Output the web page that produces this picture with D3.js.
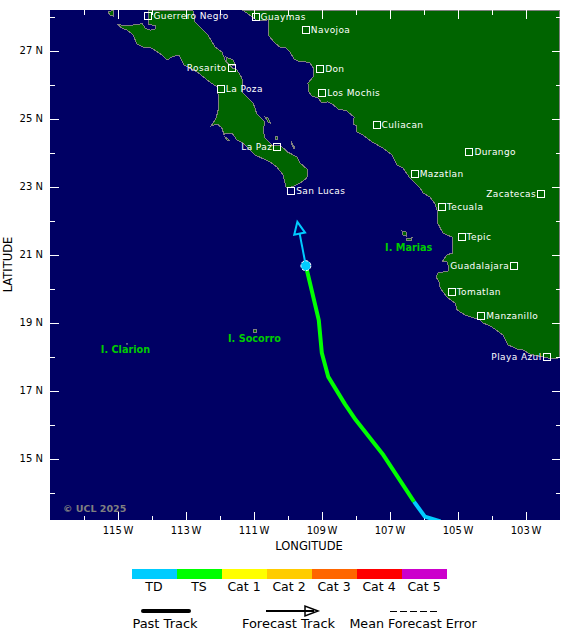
<!DOCTYPE html>
<html><head><meta charset="utf-8">
<script src="https://cdn.jsdelivr.net/npm/d3@7"></script>
<style>html,body{margin:0;padding:0;background:#fff}svg{display:block}text{font-family:"DejaVu Sans",sans-serif}</style>
</head><body><svg id="c" width="580" height="639"></svg>
<script>
// Coastlines, [lon, lat]
const mainland=[[-111.31,28.18],[-111.04,27.99],[-110.93,27.9],[-110.81,27.87],[-110.57,27.9],[-110.57,27.46],[-110.37,27.22],[-110.22,27.1],[-110.07,27.1],[-109.93,26.96],[-109.81,26.75],[-109.63,26.66],[-109.54,26.69],[-109.34,26.63],[-109.22,26.46],[-109.25,26.22],[-109.4,26.04],[-109.37,25.78],[-109.28,25.66],[-109.1,25.6],[-108.99,25.46],[-108.81,25.49],[-108.69,25.43],[-108.51,25.28],[-108.25,25.22],[-108.04,25.04],[-108.07,24.84],[-107.96,24.78],[-107.96,24.6],[-107.78,24.51],[-107.51,24.31],[-107.19,24.13],[-106.93,23.93],[-106.78,23.63],[-106.6,23.54],[-106.4,23.25],[-106.1,22.96],[-106.01,22.81],[-105.81,22.69],[-105.66,22.49],[-105.6,22.31],[-105.6,21.96],[-105.43,21.63],[-105.16,21.51],[-105.16,21.04],[-105.31,20.99],[-105.46,20.78],[-105.31,20.78],[-105.25,20.63],[-105.28,20.51],[-105.57,20.46],[-105.63,20.34],[-105.54,20.19],[-105.51,20.01],[-105.31,19.75],[-105.07,19.57],[-105.01,19.37],[-104.78,19.22],[-104.34,19.07],[-104.25,18.99],[-103.99,18.87],[-103.66,18.63],[-103.51,18.34],[-103.25,18.22],[-103.07,18.19],[-102.87,18.07],[-102.37,17.96],[-102.07,17.93],[-102.01,17.99],[-102.01,28.18]];
const baja=[[-114.1,28.18],[-114.1,27.78],[-113.87,27.72],[-113.9,27.63],[-114.04,27.6],[-114.19,27.66],[-114.28,27.81],[-114.34,27.78],[-114.54,27.75],[-114.78,27.72],[-115.01,27.78],[-114.87,27.66],[-114.72,27.6],[-114.54,27.46],[-114.43,27.19],[-114.25,27.1],[-113.99,27.07],[-113.69,26.87],[-113.54,26.72],[-113.4,26.81],[-113.19,26.87],[-113.04,26.57],[-112.66,26.37],[-112.28,26.07],[-112.07,25.93],[-112.04,25.69],[-112.04,25.25],[-112.1,25.01],[-112.25,24.78],[-112.07,24.84],[-111.93,24.72],[-111.87,24.54],[-111.75,24.57],[-111.63,24.57],[-111.49,24.37],[-111.31,24.28],[-110.96,23.93],[-110.51,23.72],[-110.31,23.57],[-110.13,23.34],[-110.04,22.96],[-109.87,22.99],[-109.63,23.1],[-109.43,23.25],[-109.4,23.49],[-109.63,23.69],[-109.72,23.87],[-109.99,24.01],[-110.22,24.22],[-110.46,24.22],[-110.66,24.43],[-110.72,24.66],[-110.66,24.9],[-110.9,25.13],[-111.01,25.46],[-111.31,25.75],[-111.34,26.19],[-111.49,26.43],[-111.63,26.49],[-111.81,26.66],[-111.93,26.96],[-112.13,27.1],[-112.34,27.46],[-112.72,27.84],[-112.78,28.18]];
const islandCedros=[[-115.28,28.13],[-115.13,28.18],[-115.13,28.01],[-115.22,28.04]];
const islandCarmen=[[-111.81,26.81],[-111.6,26.72],[-111.54,26.57],[-111.65,26.54],[-111.78,26.66]];
const islandMonserrat=[[-110.66,25.04],[-110.57,25.01],[-110.51,24.87],[-110.57,24.9]];
const islandSantaCruz=[[-110.34,24.46],[-110.28,24.46],[-110.28,24.37],[-110.34,24.37]];
const islandCerralvo=[[-109.87,24.28],[-109.78,24.13],[-109.81,24.1],[-109.87,24.22]];
const islandMargarita=[[-111.87,24.49],[-111.69,24.34],[-111.78,24.37]];
const islandMariaMadre=[[-106.63,21.69],[-106.51,21.66],[-106.49,21.54],[-106.6,21.57]];
const islandMariaMagdalena=[[-106.51,21.46],[-106.34,21.49],[-106.37,21.4],[-106.49,21.4]];
const islandSocorro=[[-111.0,18.79],[-110.92,18.79],[-110.92,18.71],[-111.0,18.71]];
const islandClarion=[[-114.75,18.37],[-114.69,18.37]];
const landShapes=[mainland,baja,islandCedros,islandCarmen,islandMonserrat,islandSantaCruz,islandCerralvo,islandMargarita,islandMariaMadre,islandMariaMagdalena,islandSocorro];

// Cities
const cityNames=["Guerrero Negro","Guaymas","Navojoa","Don","Los Mochis","Rosarito","La Poza","La Paz","San Lucas","Culiacan","Durango","Mazatlan","Zacatecas","Tecuala","Tepic","Guadalajara","Tomatlan","Manzanillo","Playa Azul"];
const cityLon=[-114.09,-110.94,-109.46,-109.04,-108.98,-111.64,-111.96,-110.3,-109.89,-107.38,-104.65,-106.26,-102.54,-105.46,-104.88,-103.33,-105.17,-104.3,-102.38];
const cityLat=[28.01,27.98,27.59,26.46,25.74,26.48,25.86,24.15,22.86,24.81,24.02,23.36,22.77,22.39,21.51,20.67,19.89,19.18,17.99];
const cityLabelLeft=["Rosarito","La Paz","Zacatecas","Guadalajara","Playa Azul"];

// Island labels
const islandNames=["I. Marias","I. Socorro","I. Clarion"];
const islandLabelLon=[-107.13,-111.75,-115.49];
const islandLabelLat=[21.1,18.43,18.1];

// Storm track
const trackLon=[-105.5,-105.96,-106.28,-107.18,-107.99,-108.31,-108.8,-108.99,-109.08,-109.46];
const trackLat=[13.15,13.29,13.73,15.1,16.13,16.6,17.4,18.1,19.07,20.67];
const trackCat=["TD","TD","TD","TS","TS","TS","TS","TS","TS","TS"];
const forecastLon=[-109.46,-109.71];
const forecastLat=[20.67,21.96];
const forecastCat="TD";

// Legend and axes
const catNames=["TD","TS","Cat 1","Cat 2","Cat 3","Cat 4","Cat 5"];
const catColors=["#00ccff","#00ff00","#ffff00","#ffcc00","#ff6600","#ff0000","#cc00cc"];
const lonMajor=[-115,-113,-111,-109,-107,-105,-103];
const lonMinor=[-116,-114,-112,-110,-108,-106,-104];
const latMajor=[27,25,23,21,19,17,15];
const latMinor=[28,26,24,22,20,18,16,14];

const svg=d3.select("#c");
const x=d3.scaleLinear().domain([-117,-102]).range([49.5,559.5]);
const y=d3.scaleLinear().domain([13.2,28.2]).range([519.7,9.7]);
const color=d3.scaleOrdinal(catNames,catColors);
const pathLine=d3.line().x(d=>x(d[0])).y(d=>y(d[1]));

svg.append("defs").append("clipPath").attr("id","plot").append("rect").attr("x",50).attr("y",10).attr("width",510).attr("height",510);
const plot=svg.append("g").attr("clip-path","url(#plot)");
plot.append("rect").attr("x",50).attr("y",10).attr("width",510).attr("height",510).attr("fill","#000064");
plot.selectAll("path.land").data(landShapes).join("path").attr("class","land")
  .attr("d",d=>pathLine(d)+"Z").attr("fill","#006400").attr("stroke","#808080").attr("stroke-width",1).attr("shape-rendering","crispEdges");
plot.append("path").attr("d",pathLine(islandClarion)).attr("stroke","#a0a0a0").attr("fill","none");

// ticks via d3 axes
function ticks(axisFn,vals,len,tx,ty,isV){
  const g=svg.append("g").attr("transform",`translate(${tx},${ty})`)
    .call(axisFn(isV?y:x).tickValues(vals).tickSize(len).tickFormat(""));
  g.select(".domain").remove();
  g.selectAll("line").attr("stroke","#fff").attr("shape-rendering","crispEdges");
}
[[lonMajor,9,8],[lonMinor,5,4]].forEach(([v,t,b])=>{
  ticks(d3.axisBottom,v,t,0,10,false);
  ticks(d3.axisTop,v,b,0,520,false);
});
[[latMajor,9,8],[latMinor,5,4]].forEach(([v,l,r])=>{
  ticks(d3.axisRight,v,l,50,0,true);
  ticks(d3.axisLeft,v,r,560,0,true);
});
// tick labels
const xl=svg.append("g").attr("transform","translate(0,520)").call(d3.axisBottom(x).tickValues(lonMajor).tickSize(0).tickPadding(7).tickFormat(d=>`${-d} W`));
xl.select(".domain").remove();
xl.selectAll("text").attr("font-size",10).attr("font-family","DejaVu Sans").attr("fill","#000").attr("word-spacing",-1.5);
const yl=svg.append("g").attr("transform","translate(50,0)").call(d3.axisLeft(y).tickValues(latMajor).tickSize(0).tickPadding(7).tickFormat(d=>`${d} N`));
yl.select(".domain").remove();
yl.selectAll("text").attr("font-size",10).attr("font-family","DejaVu Sans").attr("fill","#000");
svg.append("text").attr("x",309).attr("y",550).attr("text-anchor","middle").attr("font-size",11.5).text("LONGITUDE");
svg.append("text").attr("transform","translate(12,264.5) rotate(-90)").attr("text-anchor","middle").attr("font-size",11.5).text("LATITUDE");

// cities
const cities=cityNames.map((n,i)=>({n,lon:cityLon[i],lat:cityLat[i],left:cityLabelLeft.includes(n)}));
const overlay=svg.append("g").attr("clip-path","url(#plot)");
overlay.selectAll("rect.city").data(cities).join("rect").attr("class","city")
  .attr("x",d=>Math.round(x(d.lon))-3.5).attr("y",d=>Math.round(y(d.lat))-3.5)
  .attr("width",7).attr("height",7).attr("fill","none").attr("stroke","#fff").attr("shape-rendering","crispEdges");
overlay.selectAll("text.city").data(cities).join("text").attr("class","city")
  .attr("x",d=>x(d.lon)+(d.left?-5:5)).attr("y",d=>y(d.lat)+3)
  .attr("text-anchor",d=>d.left?"end":"start").attr("fill","#fff").attr("font-size",9).attr("letter-spacing",.4).text(d=>d.n);
overlay.selectAll("text.isl").data(islandNames).join("text").attr("class","isl")
  .attr("x",(d,i)=>x(islandLabelLon[i])).attr("y",(d,i)=>y(islandLabelLat[i]))
  .attr("fill","#00cc00").attr("font-size",9.7).attr("font-weight","bold").text(d=>d);
overlay.append("text").attr("x",63).attr("y",512).attr("fill","#808080").attr("font-size",9.5).attr("font-weight","bold").text("© UCL 2025");

// track: one polyline per category run, each starting where the previous run ends
const pts=trackLon.map((l,i)=>[l,trackLat[i]]);
const runs=["TD","TS"].map(c=>{
  const first=trackCat.indexOf(c),last=trackCat.lastIndexOf(c);
  return {cat:c,line:pts.slice(Math.max(0,first-1),last+1)};
});
overlay.selectAll("path.trk").data(runs).join("path").attr("class","trk")
  .attr("d",d=>pathLine(d.line)).attr("stroke",d=>color(d.cat)).attr("stroke-width",4).attr("stroke-linejoin","round").attr("fill","none");
// forecast arrow
const fp=forecastLon.map((l,i)=>[x(l),y(forecastLat[i])]);
const ang=Math.atan2(fp[1][1]-fp[0][1],fp[1][0]-fp[0][0]);
const headL=12,headW=5.5;
const bx=fp[1][0]-headL*Math.cos(ang),by=fp[1][1]-headL*Math.sin(ang);
const nx=-Math.sin(ang),ny=Math.cos(ang);
overlay.append("path").attr("d",d3.line()([[fp[0][0],fp[0][1]],[bx,by]])).attr("stroke",color(forecastCat)).attr("stroke-width",2).attr("fill","none");
overlay.append("path").attr("d",d3.line()([[fp[1][0],fp[1][1]],[bx+nx*headW,by+ny*headW],[bx-nx*headW,by-ny*headW]])+"Z")
  .attr("stroke",color(forecastCat)).attr("stroke-width",2).attr("fill","none");
overlay.append("circle").attr("cx",fp[0][0]).attr("cy",fp[0][1]).attr("r",5).attr("fill",color(forecastCat))
  .attr("stroke","#fff").attr("stroke-width",1).attr("stroke-dasharray","3 1.5");

// legend
const lx=d3.scaleBand().domain(catNames).range([132,447]);
svg.selectAll("rect.bar").data(catNames).join("rect").attr("class","bar").attr("x",d=>lx(d)).attr("y",569).attr("width",lx.bandwidth()).attr("height",10).attr("fill",d=>color(d));
svg.selectAll("text.bar").data(catNames).join("text").attr("class","bar").attr("x",d=>lx(d)+lx.bandwidth()/2-.5).attr("y",591)
  .attr("text-anchor","middle").attr("font-size",12.5).text(d=>d);
svg.append("line").attr("x1",143).attr("x2",189).attr("y1",611).attr("y2",611).attr("stroke","#000").attr("stroke-width",4).attr("stroke-linecap","round");
svg.append("line").attr("x1",266).attr("x2",314).attr("y1",611).attr("y2",611).attr("stroke","#000").attr("stroke-width",2);
svg.append("path").attr("d","M318,611L305,606L305,616Z").attr("fill","none").attr("stroke","#000").attr("stroke-width",1.5);
svg.append("line").attr("x1",390).attr("x2",437).attr("y1",611.5).attr("y2",611.5).attr("stroke","#000").attr("stroke-width",1).attr("stroke-dasharray","7 3").attr("shape-rendering","crispEdges");
[["Past Track",165,13],["Forecast Track",288.5,13],["Mean Forecast Error",413,12.7]].forEach(([t,cx,fs])=>{
  svg.append("text").attr("x",cx).attr("y",628).attr("text-anchor","middle").attr("font-size",fs).text(t);
});
</script></body></html>
